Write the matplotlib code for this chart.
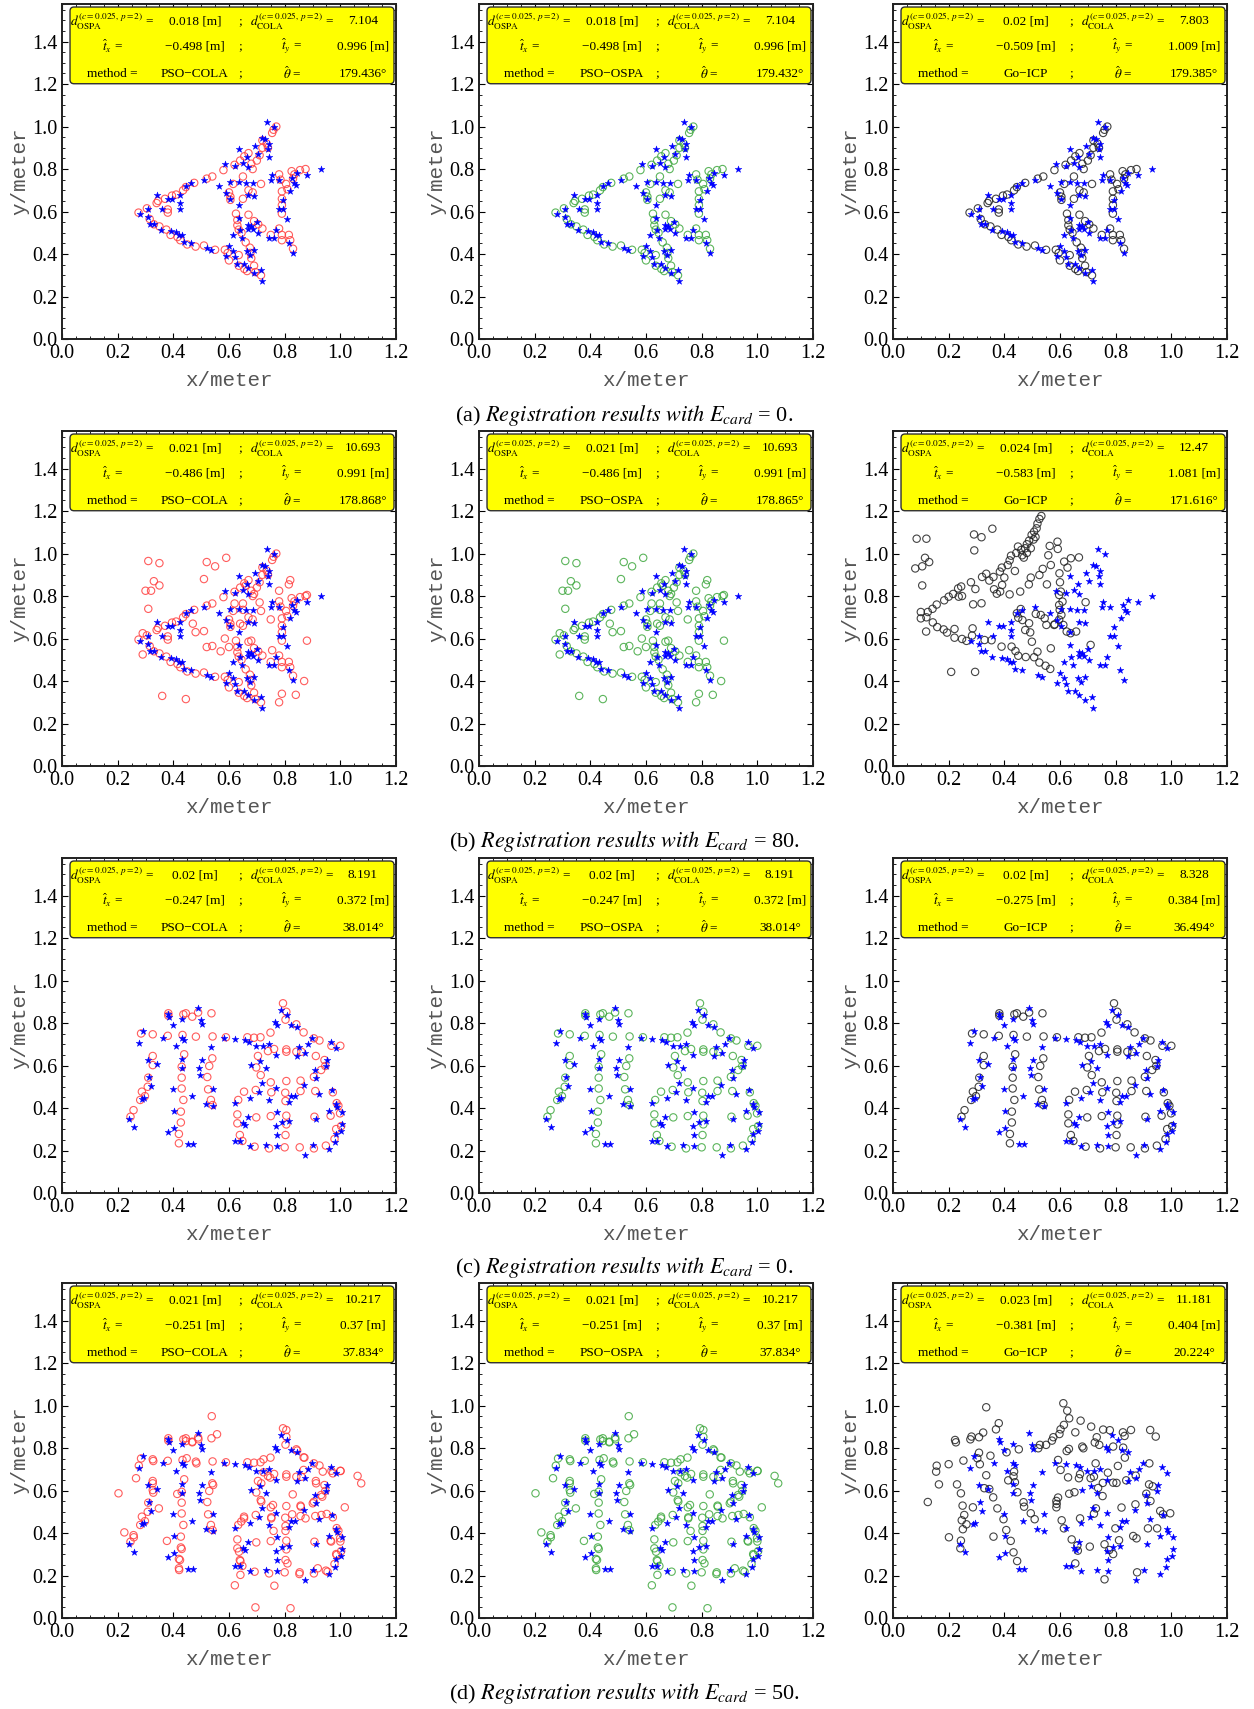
import numpy as np
import matplotlib.pyplot as plt
from matplotlib.patches import FancyBboxPatch
from matplotlib.ticker import MultipleLocator

plt.rcParams['mathtext.fontset'] = 'stix'
plt.rcParams['font.family'] = ['Liberation Serif', 'DejaVu Serif']

# --- reference point sets (blue stars) ---
fish_stars = np.array([
    [0.28, 0.59], [0.31, 0.61], [0.31, 0.575], [0.315, 0.54], [0.33, 0.54], [0.34, 0.68], [0.355, 0.515],
    [0.36, 0.61], [0.38, 0.66], [0.39, 0.51], [0.395, 0.66], [0.41, 0.505], [0.42, 0.49], [0.425, 0.64],
    [0.425, 0.61], [0.425, 0.68], [0.43, 0.49], [0.44, 0.455], [0.445, 0.72], [0.465, 0.45], [0.465, 0.735],
    [0.51, 0.75], [0.52, 0.43], [0.535, 0.42], [0.565, 0.72], [0.585, 0.825], [0.59, 0.685], [0.59, 0.39],
    [0.6, 0.44], [0.605, 0.66], [0.605, 0.74], [0.615, 0.49], [0.615, 0.415], [0.62, 0.385], [0.62, 0.815],
    [0.635, 0.74], [0.635, 0.895], [0.635, 0.63], [0.63, 0.355], [0.635, 0.57], [0.64, 0.515], [0.645, 0.475],
    [0.65, 0.83], [0.655, 0.355], [0.66, 0.735], [0.665, 0.855], [0.665, 0.415], [0.67, 0.81], [0.67, 0.68],
    [0.67, 0.535], [0.67, 0.52], [0.68, 0.53], [0.685, 0.52], [0.675, 0.395], [0.67, 0.335], [0.685, 0.735],
    [0.69, 0.675], [0.69, 0.42], [0.69, 0.31], [0.695, 0.91], [0.7, 0.55], [0.705, 0.5], [0.705, 0.87],
    [0.715, 0.325], [0.72, 0.275], [0.72, 0.945], [0.73, 0.94], [0.735, 1.02], [0.74, 0.895], [0.745, 0.855],
    [0.745, 0.92], [0.745, 0.475], [0.75, 0.75], [0.755, 0.77], [0.76, 1.0], [0.76, 0.475], [0.77, 0.515],
    [0.78, 0.75], [0.78, 0.61], [0.795, 0.655], [0.795, 0.61], [0.81, 0.565], [0.82, 0.695], [0.825, 0.76],
    [0.835, 0.735], [0.84, 0.725], [0.845, 0.78], [0.83, 0.405], [0.815, 0.45], [0.88, 0.77], [0.93, 0.80]])

char_stars = np.array([
    [0.241, 0.350], [0.258, 0.312], [0.275, 0.707], [0.292, 0.764], [0.308, 0.626], [0.314, 0.547], [0.320, 0.505],
    [0.340, 0.607], [0.287, 0.441], [0.296, 0.449], [0.364, 0.731], [0.380, 0.844], [0.386, 0.830], [0.399, 0.791],
    [0.404, 0.386], [0.409, 0.692], [0.380, 0.288], [0.404, 0.307], [0.398, 0.491], [0.430, 0.817], [0.430, 0.731],
    [0.439, 0.720], [0.432, 0.631], [0.430, 0.587], [0.487, 0.872], [0.499, 0.816], [0.504, 0.795], [0.535, 0.687],
    [0.504, 0.624], [0.493, 0.587], [0.497, 0.555], [0.466, 0.458], [0.516, 0.419], [0.541, 0.488], [0.541, 0.411],
    [0.583, 0.731], [0.623, 0.726], [0.621, 0.425], [0.657, 0.718], [0.672, 0.712], [0.680, 0.602], [0.696, 0.693],
    [0.713, 0.621], [0.722, 0.693], [0.732, 0.590], [0.720, 0.519], [0.743, 0.700], [0.766, 0.803], [0.774, 0.791],
    [0.788, 0.861], [0.809, 0.838], [0.824, 0.791], [0.843, 0.781], [0.769, 0.649], [0.768, 0.496], [0.707, 0.474],
    [0.677, 0.449], [0.745, 0.438], [0.771, 0.383], [0.770, 0.317], [0.789, 0.336], [0.817, 0.339], [0.851, 0.689],
    [0.873, 0.659], [0.883, 0.701], [0.846, 0.646], [0.898, 0.731], [0.965, 0.712], [0.986, 0.684], [0.953, 0.624],
    [0.950, 0.599], [0.909, 0.579], [0.913, 0.543], [0.869, 0.508], [0.824, 0.456], [0.838, 0.456], [0.817, 0.428],
    [0.924, 0.466], [0.969, 0.485], [0.984, 0.420], [0.987, 0.403], [0.959, 0.387], [1.006, 0.379], [1.006, 0.325],
    [1.002, 0.293], [0.985, 0.276], [0.981, 0.241], [0.959, 0.207], [0.913, 0.348], [0.903, 0.224], [0.873, 0.177],
    [0.772, 0.273], [0.772, 0.221], [0.734, 0.224], [0.676, 0.221], [0.641, 0.245], [0.623, 0.246], [0.651, 0.328],
    [0.659, 0.320], [0.669, 0.359], [0.472, 0.232], [0.454, 0.232]])

# --- estimated (transformed) measurement sets (open circles) ---
fish_circles = np.array([
    [0.275, 0.595], [0.305, 0.615], [0.315, 0.565], [0.33, 0.54], [0.34, 0.64], [0.345, 0.65], [0.35, 0.53],
    [0.37, 0.66], [0.375, 0.515], [0.38, 0.61], [0.38, 0.595], [0.39, 0.49], [0.395, 0.675], [0.41, 0.68],
    [0.415, 0.48], [0.425, 0.465], [0.435, 0.7], [0.445, 0.715], [0.45, 0.445], [0.475, 0.735], [0.48, 0.435],
    [0.51, 0.44], [0.52, 0.755], [0.54, 0.765], [0.55, 0.42], [0.58, 0.795], [0.585, 0.42], [0.6, 0.69],
    [0.605, 0.67], [0.605, 0.655], [0.615, 0.73], [0.595, 0.405], [0.6, 0.37], [0.62, 0.82], [0.625, 0.59],
    [0.63, 0.56], [0.63, 0.535], [0.635, 0.515], [0.64, 0.84], [0.635, 0.395], [0.635, 0.345], [0.645, 0.5],
    [0.65, 0.66], [0.65, 0.765], [0.655, 0.86], [0.655, 0.33], [0.66, 0.455], [0.665, 0.32], [0.67, 0.875],
    [0.67, 0.585], [0.67, 0.7], [0.675, 0.43], [0.677, 0.405], [0.68, 0.38], [0.68, 0.825], [0.685, 0.8],
    [0.685, 0.69], [0.69, 0.555], [0.69, 0.345], [0.695, 0.315], [0.7, 0.84], [0.705, 0.54], [0.71, 0.865],
    [0.72, 0.52], [0.715, 0.73], [0.715, 0.3], [0.72, 0.935], [0.72, 0.9], [0.735, 0.92], [0.74, 0.9],
    [0.755, 0.97], [0.76, 0.985], [0.77, 1.0], [0.75, 0.49], [0.78, 0.52], [0.78, 0.775], [0.785, 0.75],
    [0.79, 0.695], [0.79, 0.66], [0.79, 0.63], [0.79, 0.59], [0.79, 0.49], [0.79, 0.465], [0.805, 0.73],
    [0.81, 0.705], [0.815, 0.49], [0.82, 0.465], [0.825, 0.79], [0.83, 0.755], [0.83, 0.425], [0.835, 0.775],
    [0.855, 0.795], [0.875, 0.8]])

# extra (clutter) circles in row (b), PSO panels
fish_clutter = np.array([
    [0.31, 0.965], [0.35, 0.955], [0.52, 0.96], [0.55, 0.94], [0.59, 0.98], [0.51, 0.88], [0.33, 0.87],
    [0.35, 0.85], [0.30, 0.825], [0.32, 0.825], [0.31, 0.74], [0.82, 0.875], [0.815, 0.855], [0.78, 0.825],
    [0.88, 0.805], [0.88, 0.59], [0.87, 0.40], [0.84, 0.335], [0.79, 0.34], [0.78, 0.30], [0.36, 0.33],
    [0.445, 0.315], [0.29, 0.525], [0.48, 0.63], [0.51, 0.635], [0.52, 0.56], [0.54, 0.565], [0.57, 0.54],
    [0.64, 0.67], [0.65, 0.735], [0.62, 0.765], [0.69, 0.81], [0.66, 0.85], [0.71, 0.77], [0.75, 0.69],
    [0.755, 0.545], [0.585, 0.60], [0.60, 0.56], [0.68, 0.59], [0.29, 0.625], [0.47, 0.67]])

# Go-ICP result, row (b)
fish_goicp_b = np.array([
    [0.533, 1.177], [0.526, 1.163], [0.519, 1.141], [0.516, 1.119], [0.507, 1.103], [0.498, 1.088], [0.512, 1.078],
    [0.505, 1.066], [0.489, 1.061], [0.481, 1.044], [0.475, 1.025], [0.461, 1.017], [0.449, 1.033], [0.443, 1.003],
    [0.464, 0.992], [0.470, 0.981], [0.481, 1.003], [0.495, 1.025], [0.424, 0.990], [0.419, 0.968], [0.412, 0.946],
    [0.391, 0.934], [0.384, 0.915], [0.361, 0.890], [0.346, 0.873], [0.438, 0.918], [0.400, 0.887], [0.392, 0.852],
    [0.385, 0.821], [0.419, 0.808], [0.373, 0.811], [0.363, 0.832], [0.457, 0.821], [0.488, 0.855], [0.495, 0.887],
    [0.526, 0.899], [0.538, 0.928], [0.567, 0.946], [0.591, 1.056], [0.592, 1.022], [0.558, 0.992], [0.563, 1.036],
    [0.553, 0.855], [0.615, 0.962], [0.639, 0.978], [0.668, 0.982], [0.627, 0.934], [0.598, 0.907], [0.600, 0.865],
    [0.603, 0.821], [0.597, 0.805], [0.609, 0.774], [0.597, 0.758], [0.599, 0.735], [0.605, 0.711], [0.597, 0.689],
    [0.579, 0.664], [0.612, 0.664], [0.624, 0.633], [0.638, 0.625], [0.658, 0.633], [0.692, 0.771], [0.710, 0.570],
    [0.445, 0.719], [0.459, 0.739], [0.450, 0.698], [0.465, 0.687], [0.489, 0.672], [0.475, 0.640], [0.493, 0.629],
    [0.499, 0.585], [0.519, 0.538], [0.513, 0.716], [0.531, 0.711], [0.545, 0.695], [0.551, 0.664], [0.567, 0.554],
    [0.581, 0.667], [0.143, 0.676], [0.159, 0.654], [0.182, 0.643], [0.194, 0.628], [0.221, 0.604], [0.221, 0.645],
    [0.248, 0.598], [0.264, 0.589], [0.284, 0.614], [0.286, 0.648], [0.329, 0.593], [0.354, 0.592], [0.390, 0.562],
    [0.426, 0.562], [0.440, 0.541], [0.450, 0.519], [0.477, 0.513], [0.507, 0.512], [0.526, 0.487], [0.548, 0.472],
    [0.565, 0.457], [0.119, 0.633], [0.209, 0.443], [0.295, 0.443], [0.085, 1.07], [0.12, 1.07], [0.115, 0.98],
    [0.13, 0.96], [0.08, 0.93], [0.105, 0.94], [0.105, 0.85], [0.10, 0.725], [0.125, 0.725], [0.10, 0.695],
    [0.12, 0.70], [0.142, 0.74], [0.157, 0.76], [0.184, 0.78], [0.2, 0.797], [0.216, 0.81], [0.234, 0.836],
    [0.245, 0.845], [0.236, 0.797], [0.248, 0.80], [0.28, 0.865], [0.296, 0.833], [0.288, 0.761], [0.318, 0.766],
    [0.32, 0.89], [0.335, 0.905], [0.291, 1.09], [0.318, 1.077], [0.357, 1.117], [0.292, 1.015]])

char_circles = np.array([
    [0.246, 0.359], [0.257, 0.390], [0.281, 0.438], [0.287, 0.477], [0.298, 0.456], [0.308, 0.500], [0.310, 0.543],
    [0.326, 0.645], [0.326, 0.602], [0.284, 0.751], [0.326, 0.747], [0.382, 0.846], [0.382, 0.835], [0.436, 0.841],
    [0.445, 0.846], [0.468, 0.830], [0.489, 0.850], [0.537, 0.846], [0.380, 0.740], [0.433, 0.744], [0.481, 0.736],
    [0.541, 0.737], [0.439, 0.653], [0.430, 0.594], [0.430, 0.543], [0.430, 0.492], [0.436, 0.438], [0.427, 0.383],
    [0.427, 0.332], [0.420, 0.278], [0.420, 0.234], [0.540, 0.634], [0.529, 0.598], [0.522, 0.546], [0.525, 0.488],
    [0.535, 0.438], [0.541, 0.414], [0.589, 0.733], [0.666, 0.733], [0.690, 0.731], [0.713, 0.733], [0.749, 0.755],
    [0.740, 0.668], [0.762, 0.678], [0.806, 0.676], [0.806, 0.665], [0.842, 0.665], [0.860, 0.665], [0.704, 0.645],
    [0.698, 0.591], [0.714, 0.555], [0.750, 0.521], [0.794, 0.893], [0.806, 0.853], [0.803, 0.816], [0.842, 0.794],
    [0.868, 0.756], [0.905, 0.728], [0.925, 0.718], [0.968, 0.693], [1.000, 0.693], [0.912, 0.645], [0.943, 0.626],
    [0.946, 0.598], [0.931, 0.579], [0.905, 0.547], [0.857, 0.529], [0.806, 0.527], [0.752, 0.474], [0.696, 0.485],
    [0.654, 0.477], [0.633, 0.438], [0.802, 0.472], [0.803, 0.433], [0.857, 0.480], [0.910, 0.480], [0.973, 0.474],
    [0.965, 0.364], [0.907, 0.359], [0.806, 0.364], [0.806, 0.323], [0.803, 0.273], [0.750, 0.362], [0.698, 0.356],
    [0.630, 0.370], [0.630, 0.328], [0.639, 0.273], [0.648, 0.245], [0.692, 0.218], [0.744, 0.210], [0.800, 0.215],
    [0.854, 0.215], [0.905, 0.210], [0.948, 0.223], [0.979, 0.254], [0.985, 0.301], [1.003, 0.315], [0.999, 0.375],
    [0.993, 0.411], [0.987, 0.423]])

# extra (clutter) circles in row (d), PSO panels
char_clutter = np.array([
    [0.538, 0.95], [0.557, 0.865], [0.806, 0.885], [1.062, 0.669], [1.075, 0.634], [0.203, 0.587], [0.224, 0.403],
    [0.258, 0.380], [0.695, 0.050], [0.821, 0.046], [0.621, 0.154], [0.763, 0.152], [1.016, 0.521], [0.328, 0.739],
    [0.276, 0.717], [0.266, 0.658], [0.326, 0.634], [0.328, 0.590], [0.348, 0.516], [0.377, 0.363], [0.424, 0.273],
    [0.421, 0.226], [0.430, 0.325], [0.414, 0.584], [0.483, 0.728], [0.448, 0.752], [0.468, 0.827], [0.445, 0.833],
    [0.490, 0.841], [0.543, 0.626], [0.724, 0.747], [0.716, 0.634], [0.829, 0.582], [0.858, 0.524], [0.716, 0.548],
    [0.758, 0.532], [0.752, 0.469], [0.827, 0.488], [0.875, 0.469], [0.901, 0.540], [0.932, 0.485], [0.951, 0.490],
    [0.935, 0.571], [0.913, 0.634], [0.937, 0.689], [0.973, 0.681], [1.001, 0.692], [0.868, 0.697], [0.845, 0.788],
    [0.871, 0.755], [0.644, 0.454], [0.654, 0.469], [0.724, 0.686], [0.748, 0.661], [0.76, 0.41], [0.803, 0.41],
    [0.810, 0.257], [0.853, 0.207], [0.919, 0.234], [0.954, 0.218], [0.967, 0.36], [1.0, 0.36], [0.987, 0.297],
    [0.636, 0.312], [0.641, 0.268], [0.641, 0.203]])

# Go-ICP result, row (d)
char_goicp_d = np.array([
    [0.335, 0.992], [0.612, 1.011], [0.626, 0.976], [0.633, 0.940], [0.614, 0.909], [0.674, 0.929], [0.712, 0.901],
    [0.655, 0.874], [0.602, 0.888], [0.598, 0.866], [0.571, 0.835], [0.576, 0.851], [0.550, 0.815], [0.528, 0.815],
    [0.522, 0.799], [0.452, 0.794], [0.408, 0.780], [0.380, 0.917], [0.370, 0.888], [0.324, 0.873], [0.309, 0.851],
    [0.282, 0.854], [0.278, 0.841], [0.223, 0.838], [0.226, 0.827], [0.309, 0.778], [0.303, 0.752], [0.312, 0.724],
    [0.350, 0.764], [0.253, 0.741], [0.200, 0.724], [0.157, 0.717], [0.155, 0.689], [0.165, 0.629], [0.125, 0.546],
    [0.230, 0.629], [0.244, 0.587], [0.335, 0.672], [0.328, 0.611], [0.346, 0.607], [0.360, 0.568], [0.375, 0.516],
    [0.287, 0.521], [0.250, 0.529], [0.256, 0.485], [0.247, 0.460], [0.251, 0.418], [0.264, 0.441], [0.201, 0.380],
    [0.244, 0.364], [0.242, 0.328], [0.361, 0.383], [0.397, 0.465], [0.407, 0.414], [0.423, 0.363], [0.433, 0.309],
    [0.446, 0.268], [0.414, 0.648], [0.433, 0.667], [0.435, 0.689], [0.438, 0.639], [0.447, 0.592], [0.469, 0.545],
    [0.471, 0.524], [0.495, 0.493], [0.509, 0.465], [0.593, 0.744], [0.602, 0.697], [0.629, 0.662], [0.624, 0.786],
    [0.632, 0.796], [0.680, 0.807], [0.684, 0.799], [0.672, 0.677], [0.668, 0.658], [0.710, 0.658], [0.728, 0.728],
    [0.725, 0.826], [0.732, 0.851], [0.741, 0.815], [0.755, 0.887], [0.779, 0.884], [0.791, 0.807], [0.826, 0.874],
    [0.832, 0.857], [0.855, 0.885], [0.827, 0.802], [0.833, 0.755], [0.808, 0.716], [0.772, 0.684], [0.754, 0.636],
    [0.737, 0.612], [0.753, 0.574], [0.722, 0.666], [0.803, 0.636], [0.791, 0.637], [0.838, 0.648], [0.872, 0.670],
    [0.921, 0.728], [0.924, 0.885], [0.944, 0.854], [0.920, 0.629], [0.933, 0.620], [0.910, 0.585], [0.925, 0.551],
    [0.871, 0.535], [0.821, 0.520], [0.729, 0.516], [0.722, 0.491], [0.672, 0.469], [0.633, 0.585], [0.652, 0.592],
    [0.587, 0.551], [0.588, 0.537], [0.593, 0.567], [0.587, 0.521], [0.606, 0.460], [0.614, 0.422], [0.642, 0.370],
    [0.662, 0.341], [0.664, 0.317], [0.707, 0.336], [0.655, 0.257], [0.760, 0.182], [0.760, 0.347], [0.777, 0.320],
    [0.791, 0.301], [0.812, 0.366], [0.799, 0.422], [0.863, 0.386], [0.875, 0.375], [0.877, 0.215], [0.916, 0.422],
    [0.949, 0.422], [0.960, 0.504], [0.970, 0.488], [0.996, 0.493]])

# --- info box values: rows (a)-(d), columns PSO-COLA / PSO-OSPA / Go-ICP ---
methods = ['PSO\u2212COLA', 'PSO\u2212OSPA', 'Go\u2212ICP']
d_ospa = [[0.018, 0.018, 0.02], [0.021, 0.021, 0.024], [0.02, 0.02, 0.02], [0.021, 0.021, 0.023]]
d_cola = [[7.104, 7.104, 7.803], [10.693, 10.693, 12.47], [8.191, 8.191, 8.328], [10.217, 10.217, 11.181]]
t_x = [[-0.498, -0.498, -0.509], [-0.486, -0.486, -0.583], [-0.247, -0.247, -0.275], [-0.251, -0.251, -0.381]]
t_y = [[0.996, 0.996, 1.009], [0.991, 0.991, 1.081], [0.372, 0.372, 0.384], [0.37, 0.37, 0.404]]
theta = [[179.436, 179.432, 179.385], [178.868, 178.865, 171.616], [38.014, 38.014, 36.494],
         [37.834, 37.834, 20.224]]
row_tags = ['a', 'b', 'c', 'd']
e_card = [0, 80, 0, 50]

circle_colors = ['#ff4040', '#40a840', '#222222']


def fmt(v):
    return str(v).replace('-', '\u2212')


def panel_points(r, c):
    if r == 0:
        return fish_stars, fish_circles
    if r == 1:
        return fish_stars, (fish_goicp_b if c == 2 else np.vstack([fish_circles, fish_clutter]))
    if r == 2:
        return char_stars, char_circles
    return char_stars, (char_goicp_d if c == 2 else np.vstack([char_circles, char_clutter]))


# --- figure layout (pixel based, 1254 x 1709) ---
W, H = 1254, 1709
fig = plt.figure(figsize=(W / 100, H / 100), dpi=100)
lefts = [62, 479, 893]
bottoms = [339, 766, 1193, 1618]
aw, ah = 334, 335
caption_y = [415, 841, 1267, 1694]

for r in range(4):
    for c in range(3):
        ax = fig.add_axes([lefts[c] / W, 1 - bottoms[r] / H, aw / W, ah / H])
        stars, circles = panel_points(r, c)
        ax.scatter(circles[:, 0], circles[:, 1], s=28, facecolors='none',
                   edgecolors=circle_colors[c], linewidths=0.8, alpha=0.85, zorder=2)
        ax.scatter(stars[:, 0], stars[:, 1], s=26, marker='*', color='#0000ff',
                   linewidths=0.3, zorder=3)
        ax.set_xlim(0, 1.2)
        ax.set_ylim(0, 1.577)
        ax.xaxis.set_major_locator(MultipleLocator(0.2))
        ax.yaxis.set_major_locator(MultipleLocator(0.2))
        ax.xaxis.set_minor_locator(MultipleLocator(0.05))
        ax.yaxis.set_minor_locator(MultipleLocator(0.05))
        ax.xaxis.set_major_formatter(plt.FuncFormatter(lambda v, p: f'{v:.1f}'))
        ax.yaxis.set_major_formatter(plt.FuncFormatter(lambda v, p: f'{v:.1f}'))
        ax.tick_params(which='both', direction='in', top=True, right=True, labelsize=14.5)
        ax.tick_params(which='major', length=4.5, width=0.8)
        ax.tick_params(which='minor', length=2.2, width=0.6)
        for sp in ax.spines.values():
            sp.set_linewidth(1.4)
            sp.set_color('#202020')
        ax.set_xlabel('x/meter', family='Liberation Mono', fontsize=15, color='#555555', labelpad=6)
        ax.set_ylabel('y/meter', family='Liberation Mono', fontsize=15, color='#555555', labelpad=2)

        # yellow info box
        box = FancyBboxPatch((0.024, 0.762), 0.97, 0.229, transform=ax.transAxes,
                             boxstyle='round,pad=0,rounding_size=0.012',
                             facecolor='#ffff00', edgecolor='#303030', linewidth=1.0, zorder=5)
        ax.add_patch(box)
        rows_txt = [
            (r'$d^{(c=0.025,\,p=2)}_{\mathrm{OSPA}}$ =', f'{fmt(d_ospa[r][c])} [m]',
             r'$d^{(c=0.025,\,p=2)}_{\mathrm{COLA}}$ =', fmt(d_cola[r][c])),
            (r'$\hat{t}_x$ =', f'{fmt(t_x[r][c])} [m]', r'$\hat{t}_y$ =', f'{fmt(t_y[r][c])} [m]'),
            ('method =', methods[c], r'$\hat{\theta}$ =', f'{fmt(theta[r][c])}\u00b0'),
        ]
        row_y = [0.948, 0.874, 0.792]
        col_x = [0.15, 0.398, 0.532, 0.688, 0.901]
        for (a_, b_, c_, d_), yy in zip(rows_txt, row_y):
            for xx, txt in zip(col_x, [a_, b_, ';', c_, d_]):
                ax.text(xx, yy, txt, transform=ax.transAxes, ha='center', va='center',
                        fontsize=9.5, zorder=6)

    fig.text(0.4975, 1 - caption_y[r] / H,
             f'({row_tags[r]}) ' + r'$\mathit{Registration\ results\ with}\ E_{card}$' + f' = {e_card[r]}.',
             ha='center', va='center', fontsize=16)

fig.savefig('out.png', dpi=100, facecolor='white')
